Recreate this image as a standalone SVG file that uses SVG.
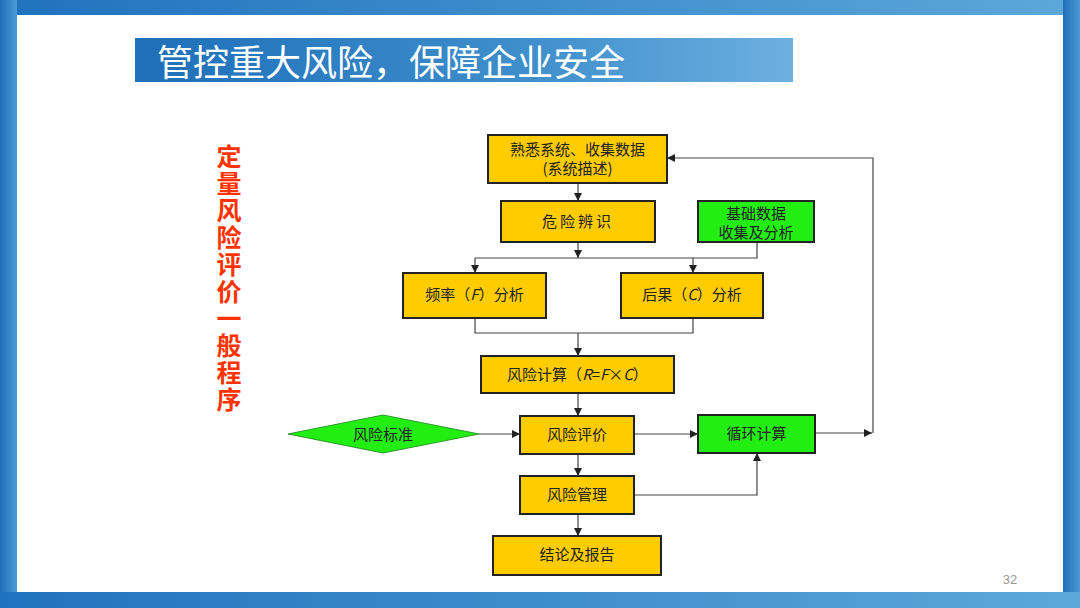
<svg xmlns="http://www.w3.org/2000/svg" width="1080" height="608" viewBox="0 0 1080 608">
<defs>
<linearGradient id="bar" x1="0" y1="0" x2="1" y2="0">
<stop offset="0" stop-color="#1f72bd"/><stop offset="1" stop-color="#5da8da"/>
</linearGradient>
<linearGradient id="tbar" x1="0" y1="0" x2="1" y2="0">
<stop offset="0" stop-color="#1f6fb9"/><stop offset="0.6" stop-color="#3f8fcc"/><stop offset="1" stop-color="#6cb0df"/>
</linearGradient>
<linearGradient id="side" x1="0" y1="0" x2="1" y2="0">
<stop offset="0" stop-color="#1f6fb9"/><stop offset="1" stop-color="#4a9ad4"/>
</linearGradient>
<marker id="ah" viewBox="0 0 10 10" refX="10" refY="5" markerWidth="8" markerHeight="8" markerUnits="userSpaceOnUse" orient="auto">
<path d="M0,0 L10,5 L0,10 z" fill="#222"/>
</marker>
</defs>
<style>
.y{fill:#ffcc00;stroke:#222;stroke-width:2}
.g{fill:#22ee11;stroke:#222;stroke-width:2}
.t{font-family:"Noto Sans CJK SC","Liberation Sans",sans-serif;font-size:15px;fill:#222;text-anchor:middle}
.c{fill:none;stroke:#444;stroke-width:1.2}
.ca{fill:none;stroke:#444;stroke-width:1.2;marker-end:url(#ah)}
</style>
<rect x="0" y="0" width="1080" height="608" fill="#ffffff"/>
<rect x="0" y="0" width="1080" height="15" fill="url(#bar)"/>
<rect x="0" y="0" width="17" height="608" fill="url(#side)"/>
<rect x="1063" y="0" width="17" height="608" fill="url(#side)"/>
<rect x="0" y="592" width="1080" height="16" fill="url(#bar)"/>
<g id="title">
<rect x="135" y="38" width="658" height="44" fill="url(#tbar)"/>
<text x="157" y="76" font-family="Noto Sans CJK SC,sans-serif" font-size="36" fill="#ffffff">管控重大风险，保障企业安全</text>
</g>
<g id="vtitle">
<text x="229" y="144" font-family="Noto Sans CJK SC,sans-serif" font-size="25" font-weight="bold" fill="#ff3300" style="writing-mode:vertical-rl" letter-spacing="2">定量风险评价一般程序</text>
</g>
<g id="connectors">
<path class="ca" d="M578,183 V201"/>
<path class="ca" d="M578,242 V258"/>
<path class="c" d="M475,258 H757 V242"/>
<path class="ca" d="M475,258 V273"/>
<path class="ca" d="M693,258 V273"/>
<path class="c" d="M475,318 V333 H693 V318"/>
<path class="ca" d="M578,333 V356"/>
<path class="ca" d="M578,393 V416"/>
<path class="ca" d="M479,434 H520"/>
<path class="ca" d="M634,434 H698"/>
<path class="ca" d="M815,433 H872"/>
<path class="ca" d="M873,433 V158 H667"/>
<path class="ca" d="M578,454 V476"/>
<path class="ca" d="M634,495 H757 V453"/>
<path class="ca" d="M578,514 V536"/>
</g>
<g id="n1"><rect class="y" x="488" y="135" width="179" height="48"/><text class="t" x="577.5" y="155">熟悉系统、收集数据</text><text class="t" x="577.5" y="174">(系统描述)</text></g>
<g id="n2"><rect class="y" x="501" y="201" width="154" height="41"/><text class="t" x="578" y="227" letter-spacing="3">危险辨识</text></g>
<g id="n3"><rect class="g" x="698" y="201" width="116" height="41"/><text class="t" x="756" y="219">基础数据</text><text class="t" x="756" y="238">收集及分析</text></g>
<g id="n4"><rect class="y" x="403" y="273" width="143" height="45"/><text class="t" x="474.5" y="300">频率（<tspan font-style="italic">F</tspan>）分析</text></g>
<g id="n5"><rect class="y" x="621" y="273" width="142" height="45"/><text class="t" x="692" y="300">后果（<tspan font-style="italic">C</tspan>）分析</text></g>
<g id="n6"><rect class="y" x="481" y="356" width="193" height="37"/><text class="t" x="577.5" y="380">风险计算（<tspan font-style="italic">R</tspan>=<tspan font-style="italic">F</tspan>×<tspan font-style="italic">C</tspan>）</text></g>
<g id="n7"><polygon points="288,434 383,415 479,434 383,453" fill="#22ee11" stroke="#2a9a2a" stroke-width="1"/><text class="t" x="383" y="440">风险标准</text></g>
<g id="n8"><rect class="y" x="520" y="416" width="114" height="38"/><text class="t" x="577" y="440">风险评价</text></g>
<g id="n9"><rect class="g" x="698" y="415" width="117" height="38"/><text class="t" x="756.5" y="439">循环计算</text></g>
<g id="n10"><rect class="y" x="520" y="476" width="114" height="38"/><text class="t" x="577" y="500">风险管理</text></g>
<g id="n11"><rect class="y" x="493" y="536" width="168" height="39"/><text class="t" x="577" y="560">结论及报告</text></g>
<text x="1010" y="584" font-family="Liberation Sans,sans-serif" font-size="13" fill="#999" text-anchor="middle">32</text>
</svg>
